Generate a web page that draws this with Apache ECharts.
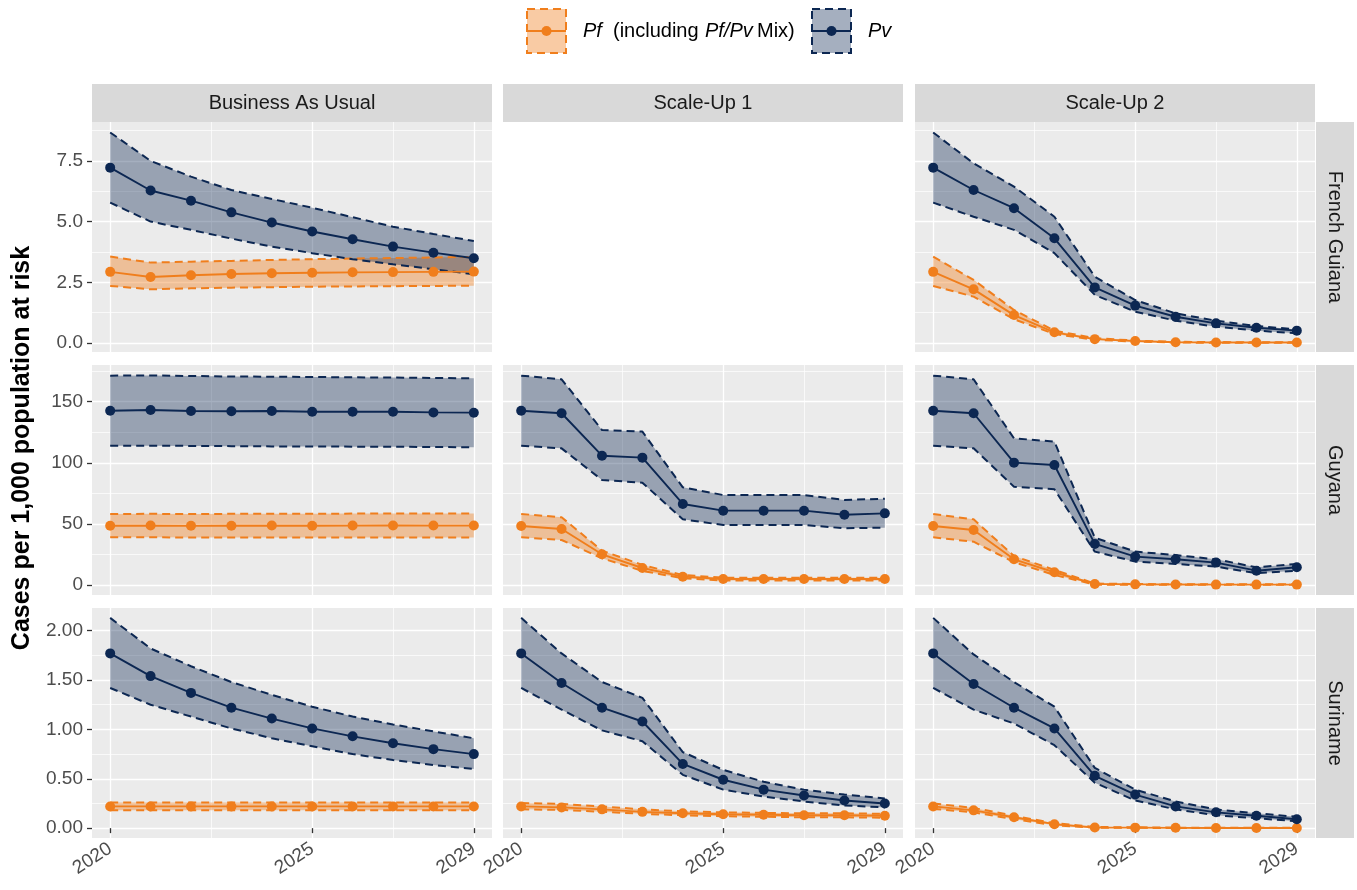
<!DOCTYPE html>
<html>
<head>
<meta charset="utf-8">
<script src="https://cdn.jsdelivr.net/npm/echarts@6/dist/echarts.min.js"></script>
<style>
  html, body { margin: 0; padding: 0; background: #ffffff; }
  #chart { width: 1357px; height: 890px; }
</style>
</head>
<body>
<div id="chart"></div>
<script>
// ---- categories & tick labels ----
const YEARS = [2020, 2021, 2022, 2023, 2024, 2025, 2026, 2027, 2028, 2029];
const SCENARIOS = ['Business As Usual', 'Scale-Up 1', 'Scale-Up 2'];
const COUNTRIES = ['French Guiana', 'Guyana', 'Suriname'];
const X_BREAKS = [2020, 2025, 2029];
const X_MINOR = [2022.5, 2027];
const FG_Y_BREAKS = [0, 2.5, 5, 7.5];
const FG_Y_MINOR = [1.25, 3.75, 6.25, 8.75];
const GY_Y_BREAKS = [0, 50, 100, 150];
const GY_Y_MINOR = [25, 75, 125, 175];
const SR_Y_BREAKS = [0, 0.5, 1, 1.5, 2];
const SR_Y_MINOR = [0.25, 0.75, 1.25, 1.75];

// ---- French Guiana ----
const FG_BAU_PF    = [2.93, 2.72, 2.79, 2.84, 2.87, 2.89, 2.91, 2.92, 2.93, 2.94];
const FG_BAU_PF_LO = [2.35, 2.21, 2.25, 2.28, 2.30, 2.32, 2.33, 2.34, 2.35, 2.36];
const FG_BAU_PF_HI = [3.56, 3.31, 3.35, 3.38, 3.42, 3.45, 3.48, 3.50, 3.52, 3.55];
const FG_BAU_PV    = [7.22, 6.28, 5.86, 5.38, 4.96, 4.59, 4.27, 3.97, 3.72, 3.49];
const FG_BAU_PV_LO = [5.78, 5.00, 4.66, 4.30, 3.97, 3.70, 3.45, 3.24, 3.04, 2.83];
const FG_BAU_PV_HI = [8.67, 7.50, 6.85, 6.30, 5.93, 5.57, 5.18, 4.79, 4.49, 4.20];

const FG_SU2_PF    = [2.93, 2.21, 1.15, 0.44, 0.16, 0.08, 0.03, 0.02, 0.02, 0.02];
const FG_SU2_PF_LO = [2.35, 1.91, 0.98, 0.37, 0.13, 0.06, 0.02, 0.01, 0.01, 0.01];
const FG_SU2_PF_HI = [3.56, 2.60, 1.36, 0.51, 0.20, 0.10, 0.05, 0.04, 0.03, 0.03];
const FG_SU2_PV    = [7.22, 6.30, 5.55, 4.31, 2.29, 1.54, 1.08, 0.81, 0.63, 0.51];
const FG_SU2_PV_LO = [5.78, 5.20, 4.66, 3.70, 1.98, 1.29, 0.92, 0.67, 0.51, 0.40];
const FG_SU2_PV_HI = [8.67, 7.40, 6.44, 5.20, 2.73, 1.77, 1.22, 0.92, 0.70, 0.56];

// ---- Guyana ----
const GY_BAU_PF    = [48.5, 48.6, 48.4, 48.5, 48.6, 48.5, 48.6, 48.7, 48.6, 48.6];
const GY_BAU_PF_LO = [39.0, 39.0, 38.9, 38.9, 38.9, 38.9, 38.9, 38.9, 38.9, 38.9];
const GY_BAU_PF_HI = [58.1, 58.2, 58.1, 58.2, 58.3, 58.3, 58.4, 58.4, 58.4, 58.4];
const GY_BAU_PV    = [142.6, 143.2, 142.3, 142.2, 142.3, 141.8, 141.8, 141.8, 141.2, 141.0];
const GY_BAU_PV_LO = [114.0, 114.0, 113.8, 113.6, 113.4, 113.3, 113.2, 113.1, 112.9, 112.7];
const GY_BAU_PV_HI = [171.3, 171.5, 171.0, 170.6, 170.4, 170.2, 169.9, 169.7, 169.4, 169.1];

const GY_SU1_PF    = [48.3, 45.8, 25.1, 13.9, 6.8, 4.9, 4.9, 4.9, 4.9, 4.9];
const GY_SU1_PF_LO = [39.0, 36.8, 21.8, 11.5, 5.5, 3.6, 3.6, 3.6, 3.6, 3.6];
const GY_SU1_PF_HI = [58.1, 55.4, 28.1, 16.4, 8.2, 6.0, 6.0, 6.0, 6.0, 6.0];
const GY_SU1_PV    = [142.6, 140.5, 105.8, 104.2, 66.3, 60.8, 60.8, 60.8, 57.5, 58.6];
const GY_SU1_PV_LO = [114.0, 111.8, 85.9, 83.7, 53.7, 49.1, 49.1, 49.1, 46.4, 46.9];
const GY_SU1_PV_HI = [171.3, 168.3, 126.8, 125.5, 79.9, 73.6, 73.6, 73.6, 69.6, 70.6];

const GY_SU2_PF    = [48.3, 45.0, 21.0, 10.4, 0.8, 0.5, 0.4, 0.3, 0.3, 0.3];
const GY_SU2_PF_LO = [39.0, 35.4, 18.6, 8.2, 0.3, 0.2, 0.2, 0.1, 0.1, 0.1];
const GY_SU2_PF_HI = [58.1, 53.7, 23.7, 12.3, 1.2, 0.8, 0.6, 0.5, 0.5, 0.5];
const GY_SU2_PV    = [142.6, 140.5, 100.1, 98.2, 33.6, 23.2, 21.0, 18.3, 11.7, 14.5];
const GY_SU2_PV_LO = [114.0, 111.8, 80.4, 78.3, 27.3, 19.1, 17.2, 15.0, 9.6, 11.7];
const GY_SU2_PV_HI = [171.3, 168.3, 120.0, 117.3, 38.7, 27.3, 24.5, 21.0, 14.5, 17.2];

// ---- Suriname ----
const SR_BAU_PF    = [0.22, 0.22, 0.22, 0.22, 0.22, 0.22, 0.22, 0.22, 0.22, 0.22];
const SR_BAU_PF_LO = [0.18, 0.18, 0.18, 0.18, 0.18, 0.18, 0.18, 0.18, 0.18, 0.18];
const SR_BAU_PF_HI = [0.26, 0.26, 0.26, 0.26, 0.26, 0.26, 0.26, 0.26, 0.26, 0.26];
const SR_BAU_PV    = [1.77, 1.54, 1.37, 1.22, 1.11, 1.01, 0.93, 0.86, 0.80, 0.75];
const SR_BAU_PV_LO = [1.42, 1.25, 1.13, 1.01, 0.91, 0.83, 0.75, 0.69, 0.64, 0.60];
const SR_BAU_PV_HI = [2.13, 1.82, 1.64, 1.48, 1.35, 1.23, 1.13, 1.05, 0.98, 0.91];

const SR_SU1_PF    = [0.22, 0.21, 0.19, 0.165, 0.15, 0.14, 0.135, 0.13, 0.13, 0.125];
const SR_SU1_PF_LO = [0.19, 0.185, 0.165, 0.145, 0.13, 0.12, 0.115, 0.11, 0.11, 0.105];
const SR_SU1_PF_HI = [0.255, 0.245, 0.22, 0.19, 0.17, 0.16, 0.155, 0.15, 0.15, 0.145];
const SR_SU1_PV    = [1.77, 1.47, 1.22, 1.08, 0.65, 0.49, 0.39, 0.33, 0.28, 0.25];
const SR_SU1_PV_LO = [1.42, 1.20, 0.99, 0.88, 0.54, 0.39, 0.32, 0.27, 0.23, 0.21];
const SR_SU1_PV_HI = [2.13, 1.77, 1.48, 1.32, 0.77, 0.59, 0.47, 0.39, 0.34, 0.30];

const SR_SU2_PF    = [0.22, 0.18, 0.11, 0.04, 0.007, 0.005, 0.003, 0.002, 0.002, 0.002];
const SR_SU2_PF_LO = [0.195, 0.16, 0.09, 0.03, 0.004, 0.003, 0.002, 0.001, 0.001, 0.001];
const SR_SU2_PF_HI = [0.25, 0.205, 0.125, 0.05, 0.012, 0.008, 0.005, 0.004, 0.003, 0.003];
const SR_SU2_PV    = [1.77, 1.46, 1.22, 1.01, 0.53, 0.34, 0.22, 0.16, 0.125, 0.09];
const SR_SU2_PV_LO = [1.42, 1.20, 1.06, 0.84, 0.46, 0.28, 0.19, 0.13, 0.10, 0.07];
const SR_SU2_PV_HI = [2.13, 1.76, 1.48, 1.23, 0.61, 0.39, 0.27, 0.19, 0.15, 0.115];

// ---- panel list (row = country, col = scenario); French Guiana / Scale-Up 1 is empty ----
const PANELS = [
  { row: 0, col: 0, pf: [FG_BAU_PF, FG_BAU_PF_LO, FG_BAU_PF_HI], pv: [FG_BAU_PV, FG_BAU_PV_LO, FG_BAU_PV_HI] },
  { row: 0, col: 2, pf: [FG_SU2_PF, FG_SU2_PF_LO, FG_SU2_PF_HI], pv: [FG_SU2_PV, FG_SU2_PV_LO, FG_SU2_PV_HI] },
  { row: 1, col: 0, pf: [GY_BAU_PF, GY_BAU_PF_LO, GY_BAU_PF_HI], pv: [GY_BAU_PV, GY_BAU_PV_LO, GY_BAU_PV_HI] },
  { row: 1, col: 1, pf: [GY_SU1_PF, GY_SU1_PF_LO, GY_SU1_PF_HI], pv: [GY_SU1_PV, GY_SU1_PV_LO, GY_SU1_PV_HI] },
  { row: 1, col: 2, pf: [GY_SU2_PF, GY_SU2_PF_LO, GY_SU2_PF_HI], pv: [GY_SU2_PV, GY_SU2_PV_LO, GY_SU2_PV_HI] },
  { row: 2, col: 0, pf: [SR_BAU_PF, SR_BAU_PF_LO, SR_BAU_PF_HI], pv: [SR_BAU_PV, SR_BAU_PV_LO, SR_BAU_PV_HI] },
  { row: 2, col: 1, pf: [SR_SU1_PF, SR_SU1_PF_LO, SR_SU1_PF_HI], pv: [SR_SU1_PV, SR_SU1_PV_LO, SR_SU1_PV_HI] },
  { row: 2, col: 2, pf: [SR_SU2_PF, SR_SU2_PF_LO, SR_SU2_PF_HI], pv: [SR_SU2_PV, SR_SU2_PV_LO, SR_SU2_PV_HI] }
];

// ---- layout & styling ----
const FONT = '"Liberation Sans", Arial, Helvetica, sans-serif';
const PF_COLOR = '#F07E1C';
const PV_COLOR = '#0C2752';
const PF_FILL = 'rgba(240,126,28,0.40)';
const PV_FILL = 'rgba(12,39,82,0.37)';
const PANEL_BG = '#EBEBEB';
const STRIP_BG = '#D9D9D9';
const COL_LEFT = [92, 503, 915];
const ROW_TOP = [122, 365, 608];
const PANEL_W = 400;
const PANEL_H = 230;
const X_MIN = 2019.55, X_MAX = 2029.45;
const DASH = [8, 5];
const ROW_AXES = [
  { min: -0.37, max: 9.1, breaks: FG_Y_BREAKS, minor: FG_Y_MINOR, digits: 1 },
  { min: -8.2, max: 180, breaks: GY_Y_BREAKS, minor: GY_Y_MINOR, digits: 0 },
  { min: -0.10, max: 2.23, breaks: SR_Y_BREAKS, minor: SR_Y_MINOR, digits: 2 }
];

const grids = [], xAxes = [], yAxes = [], series = [];

function bandSeries(axIdx, lo, hi, fill) {
  return {
    type: 'custom', xAxisIndex: axIdx.x, yAxisIndex: axIdx.y, silent: true, z: 1,
    data: [[YEARS[0], lo[0]]],
    renderItem: function (params, api) {
      const pts = [];
      for (let i = 0; i < YEARS.length; i++) pts.push(api.coord([YEARS[i], hi[i]]));
      for (let i = YEARS.length - 1; i >= 0; i--) pts.push(api.coord([YEARS[i], lo[i]]));
      return { type: 'polygon', shape: { points: pts }, style: { fill: fill, stroke: null } };
    }
  };
}
function dashedSeries(axIdx, vals, color) {
  return {
    type: 'line', xAxisIndex: axIdx.x, yAxisIndex: axIdx.y, silent: true, z: 2,
    symbol: 'none', data: YEARS.map((y, i) => [y, vals[i]]),
    lineStyle: { color: color, width: 2, type: DASH }
  };
}
function meanSeries(axIdx, vals, color) {
  return {
    type: 'line', xAxisIndex: axIdx.x, yAxisIndex: axIdx.y, silent: true, z: 3,
    symbol: 'circle', symbolSize: 10, showSymbol: true,
    itemStyle: { color: color, borderWidth: 0 },
    data: YEARS.map((y, i) => [y, vals[i]]),
    lineStyle: { color: color, width: 1.9 }
  };
}

PANELS.forEach(function (p, gi) {
  const ax = ROW_AXES[p.row];
  const bottomRow = p.row === 2;
  const leftCol = p.col === 0;
  grids.push({
    left: COL_LEFT[p.col], top: ROW_TOP[p.row], width: PANEL_W, height: PANEL_H,
    show: true, backgroundColor: PANEL_BG, borderWidth: 0, containLabel: false
  });
  // major x axis
  xAxes.push({
    type: 'value', gridIndex: gi, min: X_MIN, max: X_MAX, position: 'bottom',
    axisLine: { show: false },
    axisTick: { show: bottomRow, customValues: X_BREAKS, length: 5, lineStyle: { color: '#333333', width: 1.3 } },
    axisLabel: { show: bottomRow, customValues: X_BREAKS, rotate: 33, margin: 9,
      color: '#4D4D4D', fontSize: 19, fontFamily: FONT, formatter: v => String(Math.round(v)) },
    splitLine: { show: true, lineStyle: { color: '#FFFFFF', width: 1.3 } }
  });
  // minor x grid
  xAxes.push({
    type: 'value', gridIndex: gi, min: X_MIN, max: X_MAX, position: 'bottom',
    axisLine: { show: false },
    axisTick: { show: false, customValues: X_MINOR },
    axisLabel: { show: false, customValues: X_MINOR },
    splitLine: { show: true, lineStyle: { color: '#FFFFFF', width: 0.7 } }
  });
  // major y axis
  yAxes.push({
    type: 'value', gridIndex: gi, min: ax.min, max: ax.max, position: 'left',
    axisLine: { show: false },
    axisTick: { show: leftCol, customValues: ax.breaks, length: 5, lineStyle: { color: '#333333', width: 1.3 } },
    axisLabel: { show: leftCol, customValues: ax.breaks, margin: 9,
      color: '#4D4D4D', fontSize: 19, fontFamily: FONT, formatter: v => v.toFixed(ax.digits) },
    splitLine: { show: true, lineStyle: { color: '#FFFFFF', width: 1.3 } }
  });
  // minor y grid
  yAxes.push({
    type: 'value', gridIndex: gi, min: ax.min, max: ax.max, position: 'left',
    axisLine: { show: false },
    axisTick: { show: false, customValues: ax.minor },
    axisLabel: { show: false, customValues: ax.minor },
    splitLine: { show: true, lineStyle: { color: '#FFFFFF', width: 0.7 } }
  });
  const axIdx = { x: gi * 2, y: gi * 2 };
  const [pf, pfLo, pfHi] = p.pf;
  const [pv, pvLo, pvHi] = p.pv;
  series.push(bandSeries(axIdx, pfLo, pfHi, PF_FILL));
  series.push(bandSeries(axIdx, pvLo, pvHi, PV_FILL));
  series.push(dashedSeries(axIdx, pfHi, PF_COLOR));
  series.push(dashedSeries(axIdx, pfLo, PF_COLOR));
  series.push(dashedSeries(axIdx, pvHi, PV_COLOR));
  series.push(dashedSeries(axIdx, pvLo, PV_COLOR));
  series.push(meanSeries(axIdx, pf, PF_COLOR));
  series.push(meanSeries(axIdx, pv, PV_COLOR));
});

// ---- strips, axis title, legend ----
const graphic = [];
SCENARIOS.forEach(function (name, c) {
  graphic.push({ type: 'rect', shape: { x: COL_LEFT[c], y: 84, width: PANEL_W, height: 38 }, style: { fill: STRIP_BG }, silent: true });
  graphic.push({ type: 'text', x: COL_LEFT[c] + PANEL_W / 2, y: 103,
    style: { text: name, fill: '#1A1A1A', font: '20px ' + FONT, textAlign: 'center', textVerticalAlign: 'middle' }, silent: true });
});
COUNTRIES.forEach(function (name, r) {
  graphic.push({ type: 'rect', shape: { x: 1316, y: ROW_TOP[r], width: 38, height: PANEL_H }, style: { fill: STRIP_BG }, silent: true });
  graphic.push({ type: 'text', x: 1335, y: ROW_TOP[r] + PANEL_H / 2, rotation: -Math.PI / 2,
    style: { text: name, fill: '#1A1A1A', font: '20px ' + FONT, textAlign: 'center', textVerticalAlign: 'middle' }, silent: true });
});
graphic.push({ type: 'text', x: 22, y: 448, rotation: Math.PI / 2,
  style: { text: 'Cases per 1,000 population at risk', fill: '#000000', font: 'bold 25px ' + FONT,
    textAlign: 'center', textVerticalAlign: 'middle' }, silent: true });

function legendKey(x, stroke, fill) {
  const y = 9, w = 39, h = 44, cy = y + h / 2;
  graphic.push({ type: 'rect', shape: { x: x, y: y, width: w, height: h },
    style: { fill: fill, stroke: stroke, lineWidth: 2, lineDash: DASH }, silent: true });
  graphic.push({ type: 'line', shape: { x1: x, y1: cy, x2: x + w, y2: cy },
    style: { stroke: stroke, lineWidth: 1.9 }, silent: true });
  graphic.push({ type: 'circle', shape: { cx: x + w / 2, cy: cy, r: 5 }, style: { fill: stroke }, silent: true });
}
legendKey(527, PF_COLOR, PF_FILL);
legendKey(812, PV_COLOR, PV_FILL);
const LEG_Y = 31;
[
  { t: 'Pf', x: 583, it: true },
  { t: '(including', x: 613, it: false },
  { t: 'Pf/Pv', x: 705, it: true },
  { t: 'Mix)', x: 757, it: false },
  { t: 'Pv', x: 868, it: true }
].forEach(function (s) {
  graphic.push({ type: 'text', x: s.x, y: LEG_Y,
    style: { text: s.t, fill: '#000000', font: (s.it ? 'italic ' : '') + '20px ' + FONT,
      textAlign: 'left', textVerticalAlign: 'middle' }, silent: true });
});

const chart = echarts.init(document.getElementById('chart'), null, { renderer: 'canvas' });
chart.setOption({
  backgroundColor: '#FFFFFF',
  animation: false,
  grid: grids,
  xAxis: xAxes,
  yAxis: yAxes,
  series: series,
  graphic: graphic
});
</script>
</body>
</html>
